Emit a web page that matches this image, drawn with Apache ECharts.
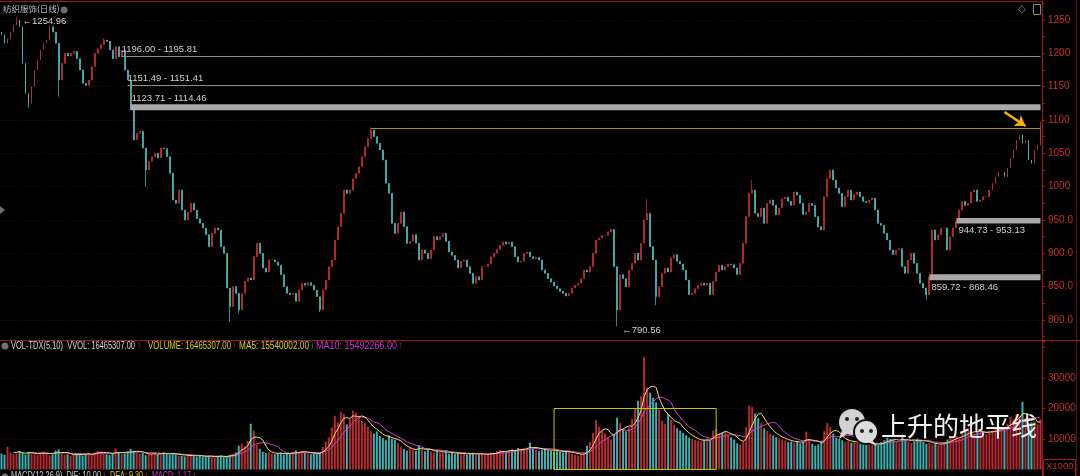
<!DOCTYPE html>
<html><head><meta charset="utf-8">
<script src="https://cdn.jsdelivr.net/npm/echarts@6/dist/echarts.min.js"></script>
<style>html,body{margin:0;padding:0;background:#000;overflow:hidden}#c{width:1080px;height:476px}</style>
</head><body><div id="c"></div>
<script>
// ---------- data ----------
const firstOpen = 1232;
const closes = [
1228,1215,1222,1232,1242,1250,1240,1185,1140,1125,
1150,1175,1190,1205,1215,1220,1240,1232,1215,1160,
1185,1200,1196,1200,1203,1192,1175,1155,1152,1160,
1180,1200,1207,1213,1220,1218,1205,1192,1210,1195,
1205,1175,1160,1115,1070,1080,1083,1058,1025,1038,
1045,1050,1043,1058,1057,1045,1020,980,975,995,
965,950,962,975,965,952,945,938,928,910,
930,938,935,910,900,848,820,850,840,815,
840,858,863,860,895,915,900,878,872,890,
890,887,882,868,850,840,838,840,828,845,
855,852,856,852,845,835,815,845,860,880,
890,920,940,960,995,990,995,1012,1020,1030,
1045,1060,1072,1085,1075,1065,1055,1040,1005,990,
945,930,945,962,940,915,918,928,915,890,
905,900,892,905,925,920,925,930,918,902,
897,890,878,888,890,880,870,855,865,860,
880,880,884,895,900,906,912,917,914,917,
910,895,887,888,900,902,895,892,894,890,
875,870,862,857,851,847,843,840,836,840,
848,852,855,862,875,872,880,900,920,923,
927,927,932,936,880,815,868,862,850,875,
885,900,890,915,950,960,910,890,835,850,
870,878,872,893,898,888,884,875,860,838,
840,847,852,855,852,855,838,858,872,882,
875,880,884,883,878,868,885,915,955,990,
995,960,955,968,945,975,980,972,958,968,
982,984,978,972,992,987,975,958,962,975,
972,955,940,935,985,1012,1025,1010,998,990,
970,985,995,980,988,992,985,978,976,980,
983,965,945,942,930,920,905,898,905,907,
880,870,890,900,885,870,855,848,838,865,
935,920,928,938,938,905,925,938,948,965,
978,972,975,992,995,978,980,985,985,995,
1005,1015,1022,1022,1015,1028,1042,1055,1070,1078,
1065,1070,1040,1035,1055,1062,1092
];
// volume in units of 1000
const volumes = [
5200,4800,7400,5600,5000,5300,6000,5500,4900,5800,
5400,5000,4800,5600,5900,5200,4700,5000,6200,6600,
5200,4800,5000,4500,4900,5300,5100,4600,5200,5400,
4800,5600,6100,5900,5400,5000,4800,5200,6900,5600,
5000,5300,5800,6800,6200,5600,5100,5400,4700,5000,
5200,5500,4900,5300,5600,5100,4800,5400,5000,4600,
4500,4300,4700,4900,4400,4200,4600,4300,4100,4500,
4300,4000,4400,4600,4200,4100,4800,5200,5600,7800,
8500,7600,9400,15000,12800,8200,6800,5800,5400,5600,
5200,5000,5400,5600,4900,5300,5100,5800,6200,5700,
6100,5500,5300,5000,5400,5100,5600,7400,9200,10500,
13800,17600,15500,18800,18200,14800,16600,19300,18600,17200,
16000,15200,14000,12600,11800,12500,11000,10300,9600,11200,
10000,9800,8600,7400,6800,6200,7000,6500,6200,8000,
6500,6000,6800,5900,5600,6200,5700,5500,5900,5200,
5400,5100,5600,5000,5300,4800,5200,5500,5000,4900,
5100,4700,5200,5600,5400,6000,6400,6100,5800,6300,
6600,6200,7000,6500,6900,7200,8800,6800,6400,6000,
6500,6900,6300,6100,5900,6200,5800,5600,6000,5700,
5200,4800,4600,5000,5400,7800,9000,12000,16200,14000,
12800,11800,10500,9800,11500,17000,15200,13000,12500,13800,
16500,20000,22500,24000,36800,27000,25200,23500,22000,19600,
16000,15000,18200,16400,14800,13500,12800,12000,11200,10400,
10000,9700,9400,9200,9800,10200,9600,12800,13200,11800,
12200,12600,11400,10500,9800,8600,8200,9200,14000,21000,
20500,18400,16800,15200,13500,12600,11800,11200,10600,10200,
9800,9500,9000,9200,8800,9400,8600,9000,12400,9800,
8400,7800,8200,9400,12600,15200,14000,11800,10400,10000,
9600,9000,9400,8800,9200,8600,9000,8400,8800,8200,
8000,8500,8200,9000,9600,10400,10000,9800,9200,8800,
11400,9800,9200,8600,9400,10200,9800,9000,8400,8800,
8200,8600,8000,8400,9000,9800,10600,10200,11000,10400,
11800,12400,13200,12600,11800,12200,13000,12400,11600,12000,
12800,13400,14200,13000,13800,15000,17200,16400,18200,17600,
22200,17000,15200,15400,15800,14800,16465
];
const wickHighs = [[5,1254.96],[16,1243],[34,1223],[123,1089],[215,982],[250,1010],[346,1098]];
const wickLows = [[9,1118],[19,1135],[48,1000],[76,797],[79,810],[106,812],[205,790.56],[218,822],[308,830]];
const priceTicks = [800,850,900,950,1000,1050,1100,1150,1200,1250];
const volTicks = [10000,20000,30000];
const levelLines = [
  {from:40, value:1196.00, text:'1196.00 - 1195.81'},
  {from:42, value:1151.45, text:'1151.49 - 1151.41'}
];
const bands = [
  {from:43, lo:1114.46, hi:1123.71, text:'1123.71 - 1114.46'},
  {from:318, lo:944.73, hi:953.13, text:'944.73 - 953.13'},
  {from:309, lo:859.72, hi:868.46, text:'859.72 - 868.46'}
];
const resistance = {from:123, value:1088};
const arrowPts = [[334,1112],[341,1091]];
const extremes = [{idx:5, value:1254.96}, {idx:205, value:790.56}];
const volBox = {from:184, to:234, lo:0, hi:20000};

// ---------- build ----------
const n = closes.length;
const cats = closes.map((_, i) => String(i));
const ohlc = closes.map((c, i) => {
  const o = i === 0 ? firstOpen : closes[i - 1];
  return [o, c, Math.min(o, c), Math.max(o, c)];
});
wickHighs.forEach(([i, v]) => { ohlc[i][3] = Math.max(ohlc[i][3], v); });
wickLows.forEach(([i, v]) => { ohlc[i][2] = Math.min(ohlc[i][2], v); });

const UP = '#cc3039', DOWN = '#4fc4c4';
function ma(arr, k) {
  return arr.map((_, i) => {
    if (i < k - 1) return '-';
    let s = 0; for (let j = i - k + 1; j <= i; j++) s += arr[j];
    return s / k;
  });
}
const volData = volumes.map((v, i) => ({
  value: v,
  itemStyle: { color: ohlc[i][1] >= ohlc[i][0] ? '#b82a32' : '#3fb0b0' }
}));

const gridLineStyle = { color: '#3c0a0a', type: [1, 2], width: 1 };
const labelColor = '#c8302a';
const SANS = "'Liberation Sans',sans-serif";

const priceMarkLines = [];
levelLines.forEach(l => priceMarkLines.push([
  { coord: [l.from, l.value], lineStyle: { color: '#8c8c8c', width: 1, type: 'solid' },
    label: { show: true, formatter: l.text, position: 'insideStartTop', distance: [0, 2],
             color: '#cfcfcf', fontSize: 9.5, fontFamily: SANS } },
  { coord: [n - 1, l.value] }
]));
priceMarkLines.push([
  { coord: [resistance.from, resistance.value], lineStyle: { color: '#a89800', width: 1.2, type: 'solid' }, label: { show: false } },
  { coord: [n - 1, resistance.value] }
]);
priceMarkLines.push([
  { coord: arrowPts[0], symbol: 'none', lineStyle: { color: '#f5b000', width: 2.5, type: 'solid' }, label: { show: false } },
  { coord: arrowPts[1], symbol: 'arrow', symbolSize: 10 }
]);

const bandAreas = bands.map((b, k) => [
  { coord: [b.from, b.lo], itemStyle: { color: '#a9a9a9' },
    label: k === 0
      ? { show: true, formatter: b.text, position: [1, -1], verticalAlign: 'bottom', align: 'left', color: '#cfcfcf', fontSize: 9.5, fontFamily: SANS }
      : { show: true, formatter: b.text, position: ['0%', '100%'], offset: [2, 2], verticalAlign: 'top', align: 'left', color: '#cfcfcf', fontSize: 9.5, fontFamily: SANS } },
  { coord: [n - 1, b.hi] }
]);

// legend text pieces: [text, colour, left, target width]
const volLegend = [
  ['VOL-TDX(5,10)  VVOL: 16465307.00', '#d6d6d6', 11, 124],
  ['↑', '#e03030', 137, 0],
  ['VOLUME: 16465307.00', '#d8d000', 148, 83],
  ['↑', '#e03030', 232, 0],
  ['MA5: 15540002.00', '#d8d000', 239, 70],
  ['↓', '#40c8d0', 310, 0],
  ['MA10: 15492266.00', '#d030d0', 316, 81],
  ['↑', '#e03030', 398, 0]
];
const macdLegend = [
  ['MACD(12,26,9)  DIF: 10.00', '#cfcfcf', 11, 90],
  ['↑', '#e03030', 102, 0],
  ['DEA: 9.30', '#d8d000', 110, 33],
  ['↑', '#e03030', 144, 0],
  ['MACD: 1.17', '#d030d0', 152, 39],
  ['↑', '#e03030', 192, 0]
];
const mctx = document.createElement('canvas').getContext('2d');
mctx.font = '10px "Liberation Sans", sans-serif';
function legendTexts(list, top) {
  return list.map(([t, c, x, w]) => {
    const sx = w > 0 ? Math.min(1, w / mctx.measureText(t).width) : 1;
    return {
      type: 'text', x: x, y: top, scaleX: sx, z: 50,
      style: { text: t, fill: c, font: (w > 0 ? '10px ' : '9px ') + SANS, textVerticalAlign: 'top' }
    };
  });
}

const chart = echarts.init(document.getElementById('c'), null, { renderer: 'canvas' });
const option = {
  backgroundColor: '#000',
  animation: false,
  grid: [
    { left: 0, right: 38, top: 3.33, height: 333.33 },
    { left: 0, right: 38, top: 341.4, height: 128.1 }
  ],
  xAxis: [
    { type: 'category', data: cats, gridIndex: 0, boundaryGap: true, show: false },
    { type: 'category', data: cats, gridIndex: 1, boundaryGap: true, show: false }
  ],
  yAxis: [
    { type: 'value', gridIndex: 0, position: 'right', min: 775, max: 1275, interval: 25, scale: true,
      axisLine: { show: false },
      axisTick: { show: true, inside: false, length: 3, lineStyle: { color: '#a01818' } },
      splitLine: { show: false },
      axisLabel: { color: labelColor, fontSize: 10, margin: 6, fontFamily: SANS,
        formatter: v => priceTicks.indexOf(v) >= 0 ? (v >= 1000 ? String(v) : v.toFixed(1)) : '' } },
    { type: 'value', gridIndex: 1, position: 'right', min: 0, max: 42000, interval: 10000,
      axisLine: { show: false },
      axisTick: { show: true, inside: false, length: 3, lineStyle: { color: '#a01818' } },
      splitLine: { show: false },
      axisLabel: { color: labelColor, fontSize: 10, margin: 6, fontFamily: SANS,
        formatter: v => volTicks.indexOf(v) >= 0 ? String(v) : '' } }
  ],
  series: [
    { type: 'line', name: 'pgrid', xAxisIndex: 0, yAxisIndex: 0, data: [], z: 0, silent: true,
      markLine: { silent: true, symbol: ['none', 'none'], z: 0,
        data: priceTicks.map(v => ({ yAxis: v, lineStyle: gridLineStyle, label: { show: false } })) } },
    { type: 'line', name: 'vgrid', xAxisIndex: 1, yAxisIndex: 1, data: [], z: 0, silent: true,
      markLine: { silent: true, symbol: ['none', 'none'], z: 0,
        data: volTicks.map(v => ({ yAxis: v, lineStyle: gridLineStyle, label: { show: false } })) } },
    { type: 'candlestick', name: 'price', xAxisIndex: 0, yAxisIndex: 0, data: ohlc, z: 2,
      barWidth: 1.4,
      itemStyle: { color: UP, color0: DOWN, borderColor: UP, borderColor0: DOWN, borderWidth: 0.7 },
      markLine: { silent: true, symbol: ['none', 'none'], animation: false, data: priceMarkLines },
      markArea: { silent: true, z: 6, data: bandAreas },
      markPoint: { silent: true, symbol: 'circle', symbolSize: 0.1,
        data: extremes.map((e, k) => ({ coord: [e.idx, e.value], value: e.value,
          label: { show: true, position: 'right', offset: k === 0 ? [1, 5] : [0, 4],
                   formatter: '←' + e.value.toFixed(2), color: '#cfcfcf', fontSize: 9.5,
                   fontFamily: SANS } })) }
    },
    { type: 'bar', name: 'vol', xAxisIndex: 1, yAxisIndex: 1, data: volData, barWidth: 2, z: 2,
      markArea: { silent: true, z: 6, data: [[
        { coord: [volBox.from, volBox.lo], itemStyle: { color: 'rgba(0,0,0,0)', borderColor: '#c8c400', borderWidth: 1 } },
        { coord: [volBox.to, volBox.hi] }]] }
    },
    { type: 'line', name: 'MA5', xAxisIndex: 1, yAxisIndex: 1, data: ma(volumes, 5), showSymbol: false,
      lineStyle: { color: '#e8e070', width: 1 }, z: 5 },
    { type: 'line', name: 'MA10', xAxisIndex: 1, yAxisIndex: 1, data: ma(volumes, 10), showSymbol: false,
      lineStyle: { color: '#d040d0', width: 1 }, z: 4 }
  ],
  graphic: [
    { type: 'line', z: 50, shape: { x1: 0, y1: 1.5, x2: 1042, y2: 1.5 }, style: { stroke: '#9a1818', lineWidth: 1 }, silent: true },
    { type: 'line', z: 50, shape: { x1: 1042.5, y1: 0, x2: 1042.5, y2: 476 }, style: { stroke: '#a01818', lineWidth: 1 }, silent: true },
    { type: 'line', z: 50, shape: { x1: 1076.5, y1: 0, x2: 1076.5, y2: 476 }, style: { stroke: '#5a1010', lineWidth: 1 }, silent: true },
    { type: 'line', z: 50, shape: { x1: 0, y1: 340.5, x2: 1080, y2: 340.5 }, style: { stroke: '#a01818', lineWidth: 1 }, silent: true },
    { type: 'text', x: 3, y: 5, z: 50, style: { text: '纺织服饰(日线)', fill: '#bdbdbd', font: "8.5px 'Noto Sans CJK SC',sans-serif", textVerticalAlign: 'top' } },
    { type: 'circle', z: 50, shape: { cx: 64, cy: 10, r: 3.5 }, style: { fill: '#6a6a6a' } },
    { type: 'text', x: 1018, y: 4, z: 50, style: { text: '◇', fill: '#8a8a8a', font: "10px 'DejaVu Sans',sans-serif", textVerticalAlign: 'top' } },
    { type: 'rect', z: 50, shape: { x: 1033.5, y: 4.5, width: 7, height: 10 }, style: { fill: 'none', stroke: '#8a8a8a', lineWidth: 1 } },
    { type: 'polygon', z: 50, shape: { points: [[0, 206], [5, 210], [0, 214]] }, style: { fill: '#707070' } },
    { type: 'circle', z: 50, shape: { cx: 5, cy: 346, r: 3.5 }, style: { fill: '#707070' } },
    ...legendTexts(volLegend, 341.5),
    { type: 'rect', z: 50, shape: { x: 1043.5, y: 459.5, width: 32, height: 20 }, style: { fill: 'none', stroke: '#a01818', lineWidth: 1 } },
    { type: 'text', x: 1046, y: 461, z: 50, style: { text: 'X1000', fill: labelColor, font: "9.5px " + SANS, textVerticalAlign: 'top' } },
    { type: 'circle', z: 50, shape: { cx: 5, cy: 477, r: 3.5 }, style: { fill: '#707070' } },
    ...legendTexts(macdLegend, 471.5),
    { type: 'group', x: 836, y: 409, z: 100, silent: true, children: [
      { type: 'circle', z: 100, shape: { cx: 16, cy: 13, r: 13 }, style: { fill: '#d2d2d2' } },
      { type: 'polygon', z: 100, shape: { points: [[6, 21], [3, 30], [13, 24]] }, style: { fill: '#d2d2d2' } },
      { type: 'circle', z: 100, shape: { cx: 11, cy: 10, r: 2 }, style: { fill: '#222' } },
      { type: 'circle', z: 100, shape: { cx: 21, cy: 10, r: 2 }, style: { fill: '#222' } },
      { type: 'circle', z: 100, shape: { cx: 30, cy: 23, r: 12 }, style: { fill: '#dcdcdc', stroke: '#111', lineWidth: 2 } },
      { type: 'polygon', z: 100, shape: { points: [[36, 31], [41, 37], [32, 33]] }, style: { fill: '#dcdcdc' } },
      { type: 'circle', z: 100, shape: { cx: 26, cy: 22, r: 2 }, style: { fill: '#222' } },
      { type: 'circle', z: 100, shape: { cx: 35, cy: 22, r: 2 }, style: { fill: '#222' } }
    ]},
    { type: 'text', x: 881, y: 413, z: 100, silent: true, style: { text: '上升的地平线', fill: '#f2f2f2', font: "26px 'Noto Sans CJK SC',sans-serif", textVerticalAlign: 'top' } }
  ]
};
chart.setOption(option);
</script>
</body></html>
